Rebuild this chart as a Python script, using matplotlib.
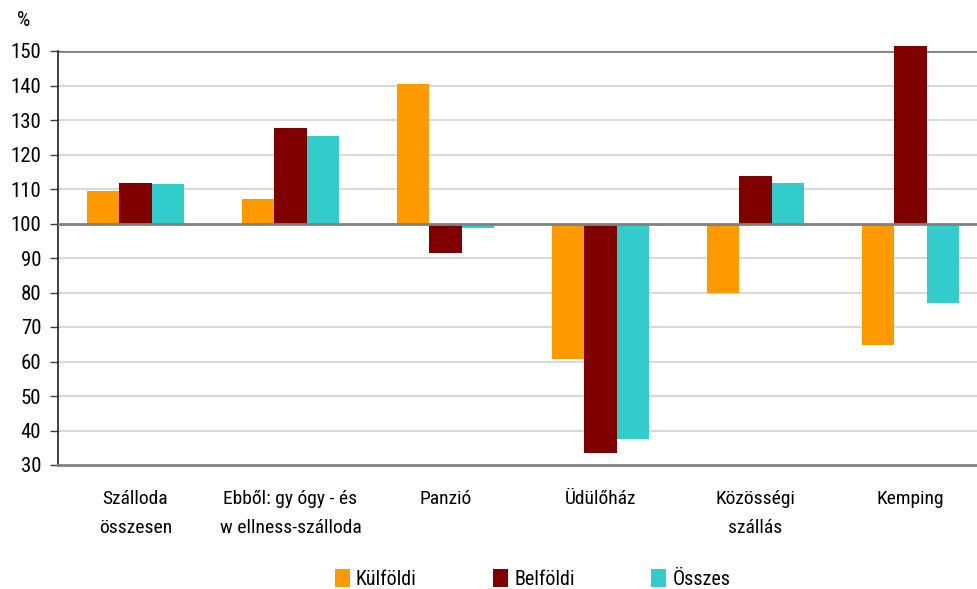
import matplotlib
matplotlib.use("Agg")
import matplotlib.pyplot as plt
import numpy as np
from matplotlib import font_manager as fm

names = {f.name for f in fm.fontManager.ttflist}
fam = 'Liberation Sans'
for cand in ['Liberation Sans Narrow', 'Arial Narrow', 'Roboto Condensed', 'DejaVu Sans Condensed']:
    if cand in names:
        fam = cand
        break
plt.rcParams['font.family'] = [fam, 'DejaVu Sans']

categories = ["Szálloda\nösszesen", "Ebből: gy ógy - és\nw ellness-szálloda", "Panzió",
              "Üdülőház", "Közösségi\nszállás", "Kemping"]
kulfoldi = [109.4, 107.1, 140.4, 60.7, 79.9, 64.8]
belfoldi = [111.7, 127.7, 91.5, 33.5, 113.8, 151.4]
osszes = [111.4, 125.4, 98.8, 37.5, 111.7, 77.0]
series_names = ["Külföldi", "Belföldi", "Összes"]
colors = ["#FF9900", "#800000", "#33CCCC"]
yticks = [30, 40, 50, 60, 70, 80, 90, 100, 110, 120, 130, 140, 150]

fig = plt.figure(figsize=(9.77, 5.89), dpi=100)
ax = fig.add_axes([58/977, 1-465/589, 930/977, (465-51)/589])

x = np.arange(len(categories))
w = 0.207
base = 100
for i, (vals, name, c) in enumerate(zip([kulfoldi, belfoldi, osszes], series_names, colors)):
    v = np.array(vals)
    ax.bar(x + (i-1)*w, v - base, bottom=base, width=w, color=c, label=name,
           zorder=3, linewidth=0, clip_on=False)

ax.set_xlim(-0.5, len(categories)-0.5)
ax.set_ylim(30, 150)
ax.set_yticks(yticks)
ax.tick_params(axis='y', labelsize=15, length=6, width=1, color='#404040', pad=6)
ax.tick_params(axis='x', length=0, labelsize=14, pad=18)
ax.set_xticks(x)
ax.set_xticklabels(categories, linespacing=1.8)
for t in yticks:
    if t not in (30, 100, 150):
        ax.axhline(t, color='#d9d9d9', lw=1.5, zorder=1)
ax.axhline(150, color='#808080', lw=2, zorder=2)
ax.axhline(100, color='#808080', lw=2, zorder=4)
for s in ['top', 'right']:
    ax.spines[s].set_visible(False)
ax.spines['bottom'].set_color('#808080')
ax.spines['bottom'].set_linewidth(2)
ax.spines['left'].set_color('#202020')
ax.spines['left'].set_linewidth(1.2)

fig.text(24/977, 1-20/589, "%", fontsize=15, ha='center', va='center')

leg = fig.legend(loc='center', bbox_to_anchor=(0.545, 1-579/589), ncol=3, frameon=False,
                 fontsize=14.5, handlelength=0.75, handleheight=1.0, handletextpad=0.3,
                 columnspacing=3.8)

fig.savefig("out.png", dpi=100)
